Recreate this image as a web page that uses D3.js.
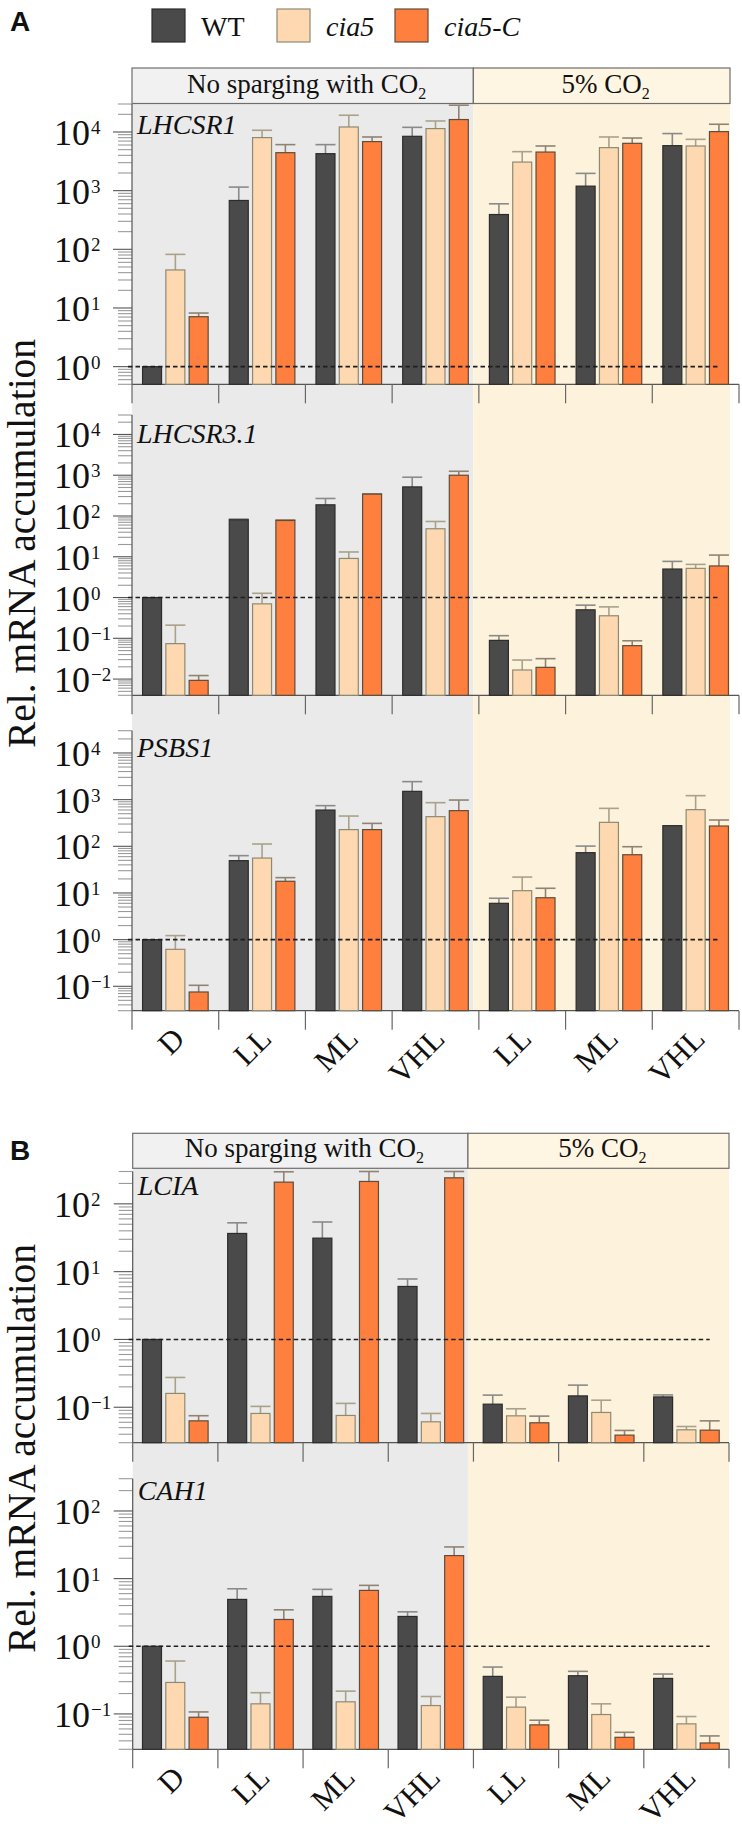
<!DOCTYPE html>
<html><head><meta charset="utf-8">
<script src="https://cdn.jsdelivr.net/npm/d3@7"></script>
<style>body{margin:0;background:#fff}svg{display:block}</style>
</head><body><svg id="c" width="742" height="1831"></svg>
<script>
// ---------------- DATA ----------------
const groups = ["D","LL","ML","VHL","LL","ML","VHL"];
const series = ["WT","cia5","cia5-C"];
const conditions = ["No sparging with CO", "5% CO"]; // subscript 2 appended

// LHCSR1
const LHCSR1_WT      = [1, 680, 4270, 8440, 392, 1194, 5850];
const LHCSR1_WT_up   = [null, 1150, 6090, 12000, 597, 1970, 9400];
const LHCSR1_cia5    = [44.5, 8020, 12170, 11430, 3070, 5410, 5770];
const LHCSR1_cia5_up = [82, 10700, 19300, 15400, 4620, 8220, 7500];
const LHCSR1_C       = [7.1, 4440, 6860, 16300, 4550, 6410, 10160];
const LHCSR1_C_up    = [8.2, 6090, 8220, 28600, 5770, 7890, 13550];
// LHCSR3.1
const LHCSR3_WT      = [1, 80.7, 188, 517, 0.089, 0.50, 5.0];
const LHCSR3_WT_up   = [null, 84, 269, 893, 0.116, 0.65, 7.7];
const LHCSR3_cia5    = [0.074, 0.70, 9.1, 48.6, 0.0167, 0.357, 5.2];
const LHCSR3_cia5_up = [0.21, 1.27, 13.1, 73.4, 0.0293, 0.59, 6.5];
const LHCSR3_C       = [0.0093, 77.6, 343, 1000, 0.0194, 0.066, 5.95];
const LHCSR3_C_up    = [0.0122, 80, 350, 1250, 0.0317, 0.087, 11.0];
// PSBS1
const PSBS1_WT       = [1, 49.3, 598, 1505, 6.0, 73, 277];
const PSBS1_WT_up    = [null, 63, 743, 2430, 7.7, 101, null];
const PSBS1_cia5     = [0.62, 56, 228, 432, 11.2, 326, 610];
const PSBS1_cia5_up  = [1.22, 112, 445, 861, 21.9, 650, 1217];
const PSBS1_C        = [0.0755, 17.8, 228, 581, 7.9, 66, 272];
const PSBS1_C_up     = [0.105, 21.3, 310, 980, 12.6, 98, 366];
// LCIA
const LCIA_WT        = [1, 36.6, 31.2, 6.05, 0.111, 0.147, 0.142];
const LCIA_WT_up     = [null, 52.5, 54, 7.8, 0.151, 0.212, 0.152];
const LCIA_cia5      = [0.16, 0.081, 0.0757, 0.061, 0.0747, 0.0838, 0.0465];
const LCIA_cia5_up   = [0.275, 0.103, 0.114, 0.081, 0.095, 0.127, 0.052];
const LCIA_C         = [0.063, 209, 214, 242, 0.059, 0.0388, 0.0459];
const LCIA_C_up      = [0.075, 297, 300, 300, 0.074, 0.0455, 0.063];
// CAH1
const CAH1_WT        = [1, 4.93, 5.46, 2.76, 0.359, 0.367, 0.335];
const CAH1_WT_up     = [null, 7.08, 6.94, 3.23, 0.493, 0.426, 0.389];
const CAH1_cia5      = [0.292, 0.141, 0.151, 0.133, 0.126, 0.098, 0.0713];
const CAH1_cia5_up   = [0.605, 0.206, 0.217, 0.181, 0.177, 0.141, 0.0915];
const CAH1_C         = [0.0893, 2.49, 6.7, 21.9, 0.0689, 0.0451, 0.0372];
const CAH1_C_up      = [0.107, 3.46, 7.95, 29.4, 0.0807, 0.0535, 0.0473];

// y-axis domains and labelled exponents
const LHCSR1_domain = [0.5, 30000],  LHCSR1_ticks = [0,1,2,3,4];
const LHCSR3_domain = [0.004, 30000], LHCSR3_ticks = [-2,-1,0,1,2,3,4];
const PSBS1_domain  = [0.03, 30000], PSBS1_ticks  = [-1,0,1,2,3,4];
const LCIA_domain   = [0.03, 300],   LCIA_ticks   = [-1,0,1,2];
const CAH1_domain   = [0.03, 300],   CAH1_ticks   = [-1,0,1,2];

// ---------------- STYLE ----------------
const fills   = ["#4a4a4a", "#fdd8b0", "#fe7f3e"];
const strokes = ["#2c2c2c", "#8e8a72", "#5e4d3a"];
const errCols = ["#8a8a8a", "#aaa18a", "#8f8373"];
const SERIF = "'Liberation Serif','Times New Roman',serif";

const svg = d3.select("#c");

function drawPanel(cfg){
  const x = d3.scaleBand().domain(d3.range(groups.length)).range([cfg.x0, cfg.x1]);
  const xs = d3.scaleBand().domain(series).range([-32.8, 32.8]).paddingInner(0.185);
  const split = x(4) - 5.5;
  // background
  svg.append("rect").attr("x", cfg.x0).attr("y", cfg.hBot)
     .attr("width", split - cfg.x0).attr("height", cfg.bgBot - cfg.hBot).attr("fill", "#eaeaea");
  svg.append("rect").attr("x", split).attr("y", cfg.hBot)
     .attr("width", cfg.bgRight - split).attr("height", cfg.bgBot - cfg.hBot).attr("fill", "#fdf3dc");
  // header
  const hdr = [[cfg.x0, split, "#f1f1f1"], [split, cfg.bgRight, "#fef6e2"]];
  hdr.forEach((h, i) => {
    svg.append("rect").attr("x", h[0]).attr("y", cfg.hTop).attr("width", h[1]-h[0])
       .attr("height", cfg.hBot - cfg.hTop).attr("fill", h[2]).attr("stroke", "#6e6e6e").attr("stroke-width", 1.2);
    const t = svg.append("text").attr("x", (h[0]+h[1])/2 + 4).attr("y", cfg.hBot - 11)
       .attr("text-anchor", "middle").attr("font-family", SERIF).attr("font-size", 27).attr("fill", "#111")
       .text(conditions[i]);
    t.append("tspan").attr("dy", 6).attr("font-size", 16).text("2");
  });
  // panel letter
  svg.append("text").attr("x", 10).attr("y", cfg.letterY).attr("font-family", "'Liberation Sans',Arial,sans-serif")
     .attr("font-weight", "bold").attr("font-size", 28).attr("fill", "#111").text(cfg.letter);
  // y title
  svg.append("text").attr("transform", `translate(35,${cfg.titleY}) rotate(-90)`).attr("text-anchor", "middle")
     .attr("font-family", SERIF).attr("font-size", 39.5).attr("fill", "#111").text("Rel. mRNA accumulation");

  cfg.plots.forEach((p, pi) => {
    const y = d3.scaleLog().domain(p.domain).range([p.bottom, p.top]);
    const g = svg.append("g");
    // minor + major ticks
    const lo = Math.floor(Math.log10(p.domain[0])), hi = Math.ceil(Math.log10(p.domain[1]));
    for (let k = lo; k <= hi; k++){
      for (let m = 1; m <= 9; m++){
        const v = m * Math.pow(10, k);
        if (v < p.domain[0]*0.999 || v > p.domain[1]*1.001) continue;
        const yy = y(v);
        g.append("line").attr("x1", cfg.x0 - (m === 1 ? 19 : 14)).attr("x2", cfg.x0)
         .attr("y1", yy).attr("y2", yy).attr("stroke", m === 1 ? "#555" : "#9a9a9a").attr("stroke-width", 1.1);
      }
    }
    // tick labels
    p.ticks.forEach(e => {
      const yy = y(Math.pow(10, e));
      g.append("text").attr("x", 90).attr("y", yy + 13).attr("text-anchor", "end")
       .attr("font-family", SERIF).attr("font-size", 36).attr("fill", "#111").text("10");
      g.append("text").attr("x", 91).attr("y", yy + 2).attr("font-family", SERIF)
       .attr("font-size", 19).attr("fill", "#111").text(e < 0 ? "\u2212" + (-e) : String(e));
    });
    // axis lines
    g.append("line").attr("x1", cfg.x0).attr("x2", cfg.x0).attr("y1", p.top).attr("y2", p.bottom)
     .attr("stroke", "#555").attr("stroke-width", 1.2);
    g.append("line").attr("x1", cfg.x0).attr("x2", cfg.x1).attr("y1", p.bottom).attr("y2", p.bottom)
     .attr("stroke", "#555").attr("stroke-width", 1.2);
    d3.range(groups.length + 1).forEach(i => {
      const xx = i < groups.length ? x(i) : cfg.x1;
      g.append("line").attr("x1", xx).attr("x2", xx).attr("y1", p.bottom).attr("y2", p.bottom + 19)
       .attr("stroke", "#666").attr("stroke-width", 1.2);
    });
    // bars + error bars
    p.data.forEach((s, si) => {
      s.v.forEach((v, gi) => {
        const cx = x(gi) + x.bandwidth()/2 + xs(series[si]) + xs.bandwidth()/2;
        const up = s.up[gi];
        if (up != null && up > v){
          g.append("line").attr("x1", cx).attr("x2", cx).attr("y1", y(v)).attr("y2", y(up))
           .attr("stroke", errCols[si]).attr("stroke-width", 1.6);
          g.append("line").attr("x1", cx - 10).attr("x2", cx + 10).attr("y1", y(up)).attr("y2", y(up))
           .attr("stroke", errCols[si]).attr("stroke-width", 1.6);
        }
        g.append("rect").attr("x", cx - xs.bandwidth()/2).attr("y", y(v))
         .attr("width", xs.bandwidth()).attr("height", p.bottom - y(v))
         .attr("fill", fills[si]).attr("stroke", strokes[si]).attr("stroke-width", 1.2);
      });
    });
    // dashed reference line at 1
    const lastCx = x(groups.length - 1) + x.bandwidth()/2 + xs(series[2]) + xs.bandwidth()/2;
    g.append("line").attr("x1", cfg.x0 - 4).attr("x2", lastCx).attr("y1", y(1)).attr("y2", y(1))
     .attr("stroke", "#1e1e1e").attr("stroke-width", 1.6).attr("stroke-dasharray", "4.5,3");
    // gene label
    g.append("text").attr("x", cfg.x0 + 5).attr("y", p.labelY).attr("font-family", SERIF)
     .attr("font-style", "italic").attr("font-size", 28).attr("fill", "#111").text(p.name);
    // x labels on last plot
    if (pi === cfg.plots.length - 1){
      groups.forEach((gname, gi) => {
        const cx = x(gi) + x.bandwidth()/2;
        g.append("text").attr("transform", `translate(${cx + 11},${p.bottom + 30}) rotate(-45)`)
         .attr("text-anchor", "end").attr("font-family", SERIF).attr("font-size", 31).attr("fill", "#111").text(gname);
      });
    }
  });
}

function mk(wt, wtu, c5, c5u, cc, ccu){
  return [{v: wt, up: wtu}, {v: c5, up: c5u}, {v: cc, up: ccu}];
}

drawPanel({
  letter: "A", letterY: 31, titleY: 543.5,
  x0: 132, x1: 739, bgRight: 730, hTop: 68, hBot: 103.5, bgBot: 1010.7,
  plots: [
    {name: "LHCSR1", domain: LHCSR1_domain, ticks: LHCSR1_ticks, top: 104, bottom: 384.3, labelY: 134,
     data: mk(LHCSR1_WT, LHCSR1_WT_up, LHCSR1_cia5, LHCSR1_cia5_up, LHCSR1_C, LHCSR1_C_up)},
    {name: "LHCSR3.1", domain: LHCSR3_domain, ticks: LHCSR3_ticks, top: 415, bottom: 695.3, labelY: 443,
     data: mk(LHCSR3_WT, LHCSR3_WT_up, LHCSR3_cia5, LHCSR3_cia5_up, LHCSR3_C, LHCSR3_C_up)},
    {name: "PSBS1", domain: PSBS1_domain, ticks: PSBS1_ticks, top: 730.7, bottom: 1010.7, labelY: 757,
     data: mk(PSBS1_WT, PSBS1_WT_up, PSBS1_cia5, PSBS1_cia5_up, PSBS1_C, PSBS1_C_up)}
  ]
});
drawPanel({
  letter: "B", letterY: 1160, titleY: 1448.5,
  x0: 132.7, x1: 729, bgRight: 729, hTop: 1133.3, hBot: 1168.3, bgBot: 1749.3,
  plots: [
    {name: "LCIA", domain: LCIA_domain, ticks: LCIA_ticks, top: 1171.5, bottom: 1442.7, labelY: 1195,
     data: mk(LCIA_WT, LCIA_WT_up, LCIA_cia5, LCIA_cia5_up, LCIA_C, LCIA_C_up)},
    {name: "CAH1", domain: CAH1_domain, ticks: CAH1_ticks, top: 1478.7, bottom: 1749.3, labelY: 1500,
     data: mk(CAH1_WT, CAH1_WT_up, CAH1_cia5, CAH1_cia5_up, CAH1_C, CAH1_C_up)}
  ]
});

// legend
const legX = [152, 277, 395];
series.forEach((s, i) => {
  svg.append("rect").attr("x", legX[i]).attr("y", 9).attr("width", 33).attr("height", 33)
     .attr("fill", fills[i]).attr("stroke", strokes[i]).attr("stroke-width", 1.2);
  svg.append("text").attr("x", legX[i] + 49).attr("y", 36).attr("font-family", SERIF)
     .attr("font-size", 28).attr("font-style", i === 0 ? "normal" : "italic").attr("fill", "#111").text(s);
});
</script></body></html>
